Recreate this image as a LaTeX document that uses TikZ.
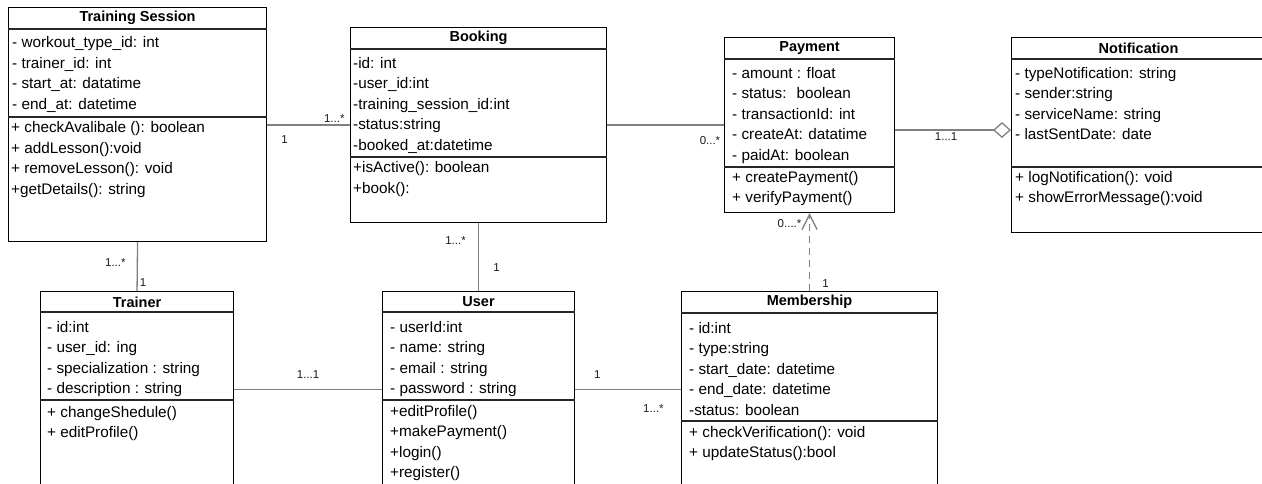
\documentclass[tikz,border=0pt]{standalone}
\usepackage{fontspec}
\setmainfont{Liberation Sans}
\usetikzlibrary{positioning,arrows.meta}

\begin{document}
\begin{tikzpicture}[
        x=1pt, y=-1pt,
        classbox/.style={rectangle, draw=black, line width=1.1pt, anchor=north west, inner sep=0pt},
        classline/.style={draw=black!85, line width=1.1pt},
        title/.style={font=\bfseries\fontsize{14.5}{17}\selectfont, inner sep=0pt},
        members/.style={anchor=north west, inner sep=0pt, align=left, font=\fontsize{15.3}{20.5}\selectfont, execute at begin node=\strut},
        conn/.style={draw=black!50, line width=1.3pt},
        mult/.style={font=\fontsize{11.5}{12}\selectfont, text=black!90, inner sep=1pt}
    ]
    \useasboundingbox (0,0) rectangle (1262,483);
    \clip (0,0) rectangle (1262,483);

    % Training session
    \node[classbox, minimum width=258pt, minimum height=234pt] (session) at (8,7) {};
    \node[title] (session-title) at ([shift={(0,11)}]session.north) {Training Session};
    \draw[classline] ([shift={(0,22)}]session.north west) -- ([shift={(0,22)}]session.north east);
    \node[members] (session-attr) at ([shift={(4,29.5)}]session.north west) {- workout\_type\_id: int\\- trainer\_id: int\\- start\_at: datatime\\- end\_at: datetime};
    \draw[classline] ([shift={(0,110)}]session.north west) -- ([shift={(0,110)}]session.north east);
    \node[members] (session-ops) at ([shift={(3,114.5)}]session.north west) {+ checkAvalibale (): boolean\\+ addLesson():void\\+ removeLesson(): void\\+getDetails(): string};

    % Booking
    \node[classbox, minimum width=256pt, minimum height=195pt] (booking) at (350,27) {};
    \node[title] (booking-title) at ([shift={(0,11)}]booking.north) {Booking};
    \draw[classline] ([shift={(0,22)}]booking.north west) -- ([shift={(0,22)}]booking.north east);
    \node[members] (booking-attr) at ([shift={(3,30)}]booking.north west) {-id: int\\-user\_id:int\\-training\_session\_id:int\\-status:string\\-booked\_at:datetime};
    \draw[classline] ([shift={(0,130)}]booking.north west) -- ([shift={(0,130)}]booking.north east);
    \node[members] (booking-ops) at ([shift={(3,134.5)}]booking.north west) {+isActive(): boolean\\+book():};

    % Payment
    \node[classbox, minimum width=170pt, minimum height=175pt] (payment) at (724,37) {};
    \node[title] (payment-title) at ([shift={(0,11)}]payment.north) {Payment};
    \draw[classline] ([shift={(0,22)}]payment.north west) -- ([shift={(0,22)}]payment.north east);
    \node[members] (payment-attr) at ([shift={(8,30)}]payment.north west) {- amount : float\\- status: ~boolean\\- transactionId: int\\- createAt: datatime\\- paidAt: boolean};
    \draw[classline] ([shift={(0,130)}]payment.north west) -- ([shift={(0,130)}]payment.north east);
    \node[members] (payment-ops) at ([shift={(8,134)}]payment.north west) {+ createPayment()\\+ verifyPayment()};

    % Notification
    \node[classbox, minimum width=254pt, minimum height=195pt] (notification) at (1011,37) {};
    \node[title] (notification-title) at ([shift={(0,11)}]notification.north) {Notification};
    \draw[classline] ([shift={(0,22)}]notification.north west) -- ([shift={(0,22)}]notification.north east);
    \node[members] (notification-attr) at ([shift={(4,30)}]notification.north west) {- typeNotification: string\\- sender:string\\- serviceName: string\\- lastSentDate: date};
    \draw[classline] ([shift={(0,130)}]notification.north west) -- ([shift={(0,130)}]notification.north east);
    \node[members] (notification-ops) at ([shift={(4,134)}]notification.north west) {+ logNotification(): void\\+ showErrorMessage():void};

    % Trainer
    \node[classbox, minimum width=193pt, minimum height=196pt] (trainer) at (40,291) {};
    \node[title] (trainer-title) at ([shift={(0,11)}]trainer.north) {Trainer};
    \draw[classline] ([shift={(0,21)}]trainer.north west) -- ([shift={(0,21)}]trainer.north east);
    \node[members] (trainer-attr) at ([shift={(7,30)}]trainer.north west) {- id:int\\- user\_id: ing\\- specialization : string\\- description : string};
    \draw[classline] ([shift={(0,109)}]trainer.north west) -- ([shift={(0,109)}]trainer.north east);
    \node[members] (trainer-ops) at ([shift={(7,115)}]trainer.north west) {+ changeShedule()\\+ editProfile()};

    % User
    \node[classbox, minimum width=192pt, minimum height=196pt] (user) at (382,291) {};
    \node[title] (user-title) at ([shift={(0,11)}]user.north) {User};
    \draw[classline] ([shift={(0,21)}]user.north west) -- ([shift={(0,21)}]user.north east);
    \node[members] (user-attr) at ([shift={(8,30)}]user.north west) {- userId:int\\- name: string\\- email : string\\- password : string};
    \draw[classline] ([shift={(0,109)}]user.north west) -- ([shift={(0,109)}]user.north east);
    \node[members] (user-ops) at ([shift={(8,114)}]user.north west) {+editProfile()\\+makePayment()\\+login()\\+register()};

    % Membership
    \node[classbox, minimum width=256pt, minimum height=196pt] (membership) at (681,291) {};
    \node[title] (membership-title) at ([shift={(0,11)}]membership.north) {Membership};
    \draw[classline] ([shift={(0,22)}]membership.north west) -- ([shift={(0,22)}]membership.north east);
    \node[members] (membership-attr) at ([shift={(8,31)}]membership.north west) {- id:int\\- type:string\\- start\_date: datetime\\- end\_date: datetime\\-status: boolean};
    \draw[classline] ([shift={(0,130)}]membership.north west) -- ([shift={(0,130)}]membership.north east);
    \node[members] (membership-ops) at ([shift={(8,135)}]membership.north west) {+ checkVerification(): void\\+ updateStatus():bool};

    % associations
    \draw[conn] (session.east |- booking.west) -- (booking.west)
        node[mult, pos=.21, yshift=-14.5pt] (sb-one) {1}
        node[mult, pos=.81, yshift=6.5pt] (sb-many) {1...*};
    \draw[conn] (booking.east) -- (booking.east -| payment.west)
        node[mult, pos=.88, yshift=-15.5pt] (bp-many) {0...*};
    \draw[conn, -{Diamond[open, length=18pt, width=16pt]}] ([yshift=-5pt]payment.east) -- ([yshift=-5pt]payment.east -| notification.west)
        node[mult, pos=.44, yshift=-6pt, fill=white] (pn-one) {1...1};
    \draw[conn] (session.south) -- (trainer.north)
        node[mult, pos=.42, xshift=-22pt] (st-many) {1...*}
        node[mult, pos=.82, xshift=6pt] (st-one) {1};
    \draw[conn] (booking.south) -- (user.north)
        node[mult, pos=.26, xshift=-23pt] (bu-many) {1...*}
        node[mult, pos=.65, xshift=18pt] (bu-one) {1};
    \draw[conn] (trainer.east) -- (user.west)
        node[mult, pos=.5, yshift=15pt] (tu-one) {1...1};
    \draw[conn] (user.east) -- (membership.west)
        node[mult, pos=.21, yshift=15pt] (um-one) {1}
        node[mult, pos=.74, yshift=-19pt] (um-many) {1...*};
    \draw[conn, dash pattern=on 7pt off 5pt, -{Straight Barb[length=15pt, width=15pt]}] (membership.north) -- (payment.south)
        node[mult, pos=.87, xshift=-20pt] (mp-many) {0....*}
        node[mult, pos=.1, xshift=16pt] (mp-one) {1};
\end{tikzpicture}
\end{document}
